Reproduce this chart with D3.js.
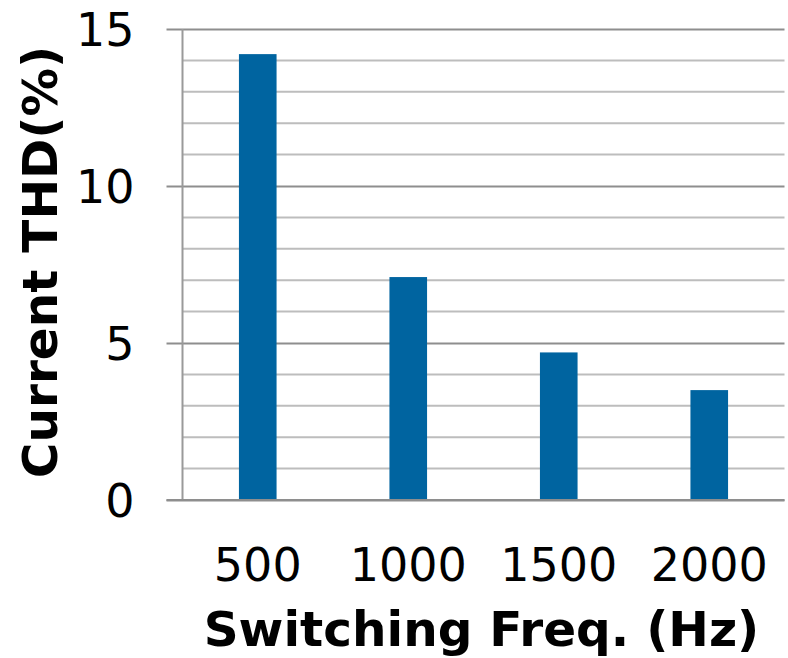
<!DOCTYPE html>
<html>
<head>
<meta charset="utf-8">
<script src="https://cdn.jsdelivr.net/npm/d3@7/dist/d3.min.js"></script>
<style>
  html, body { margin: 0; padding: 0; background: #fff; }
  svg { display: block; }
  text { font-family: "DejaVu Sans", Verdana, sans-serif; fill: #000; }
</style>
</head>
<body>
<svg id="chart" width="788" height="658"></svg>
<script>
// Switching frequency (Hz) and the resulting current THD (%)
const frequencies = ["500", "1000", "1500", "2000"];
const thdValues = [14.2, 7.1, 4.7, 3.5];
const majorTicks = [0, 5, 10, 15];
const minorTicks = d3.range(0, 16, 1);
const xTitle = "Switching Freq. (Hz)";
const yTitle = "Current THD(%)";

const svg = d3.select("#chart");
const margin = { left: 182.5, right: 3.5, top: 29, bottom: 158 };
const W = 788, H = 658;

const x = d3.scaleBand()
  .domain(frequencies)
  .range([margin.left, W - margin.right])
  .paddingInner(0.75)
  .paddingOuter(0.375);

const y = d3.scaleLinear()
  .domain([0, 15])
  .range([H - margin.bottom, margin.top]);

// minor grid lines
svg.append("g")
  .selectAll("line")
  .data(minorTicks.filter(v => !majorTicks.includes(v)))
  .join("line")
  .attr("x1", margin.left).attr("x2", W - margin.right)
  .attr("y1", d => y(d)).attr("y2", d => y(d))
  .attr("stroke", "#bdbdbd").attr("stroke-width", 2);

// major grid lines with outward ticks
const yAxis = d3.axisLeft(y)
  .tickValues(majorTicks)
  .tickSize(-(W - margin.right - margin.left))
  .tickFormat(d3.format("d"));

const gy = svg.append("g")
  .attr("transform", `translate(${margin.left},0)`)
  .call(yAxis);
gy.select(".domain").remove();
gy.selectAll(".tick line")
  .attr("x1", -16)
  .attr("stroke", "#8e8e8e").attr("stroke-width", 2);
gy.selectAll(".tick text")
  .attr("x", -48)
  .attr("dy", "0.36em")
  .style("font-size", "46px")
  .style("font-family", "'DejaVu Sans', Verdana, sans-serif")
  .attr("fill", "#000");

// vertical axis line
svg.append("line")
  .attr("x1", margin.left).attr("x2", margin.left)
  .attr("y1", y(15)).attr("y2", y(0))
  .attr("stroke", "#9a9a9a").attr("stroke-width", 2);

// bars
svg.append("g")
  .selectAll("rect")
  .data(frequencies.map((f, i) => ({ f, v: thdValues[i] })))
  .join("rect")
  .attr("x", d => x(d.f))
  .attr("width", x.bandwidth())
  .attr("y", d => y(d.v))
  .attr("height", d => y(0) - y(d.v))
  .attr("fill", "#0064a0");

// baseline drawn over the bars
svg.append("line")
  .attr("x1", margin.left - 16).attr("x2", W - margin.right)
  .attr("y1", y(0)).attr("y2", y(0))
  .attr("stroke", "#8e8e8e").attr("stroke-width", 2);

// category labels
const xAxis = d3.axisBottom(x).tickSize(0);
const gx = svg.append("g")
  .attr("transform", `translate(0,${y(0)})`)
  .call(xAxis);
gx.select(".domain").remove();
gx.selectAll(".tick text")
  .attr("y", 81)
  .attr("dy", 0)
  .style("font-size", "46px")
  .style("font-family", "'DejaVu Sans', Verdana, sans-serif")
  .attr("fill", "#000");

// axis titles
svg.append("text")
  .attr("x", (margin.left + W - margin.right) / 2 - 2)
  .attr("y", 646)
  .attr("text-anchor", "middle")
  .style("font-size", "48.5px")
  .style("font-weight", "bold")
  .text(xTitle);

svg.append("text")
  .attr("transform", `translate(57,${262}) rotate(-90)`)
  .attr("text-anchor", "middle")
  .style("font-size", "48.5px")
  .style("font-weight", "bold")
  .text(yTitle);
</script>
</body>
</html>
